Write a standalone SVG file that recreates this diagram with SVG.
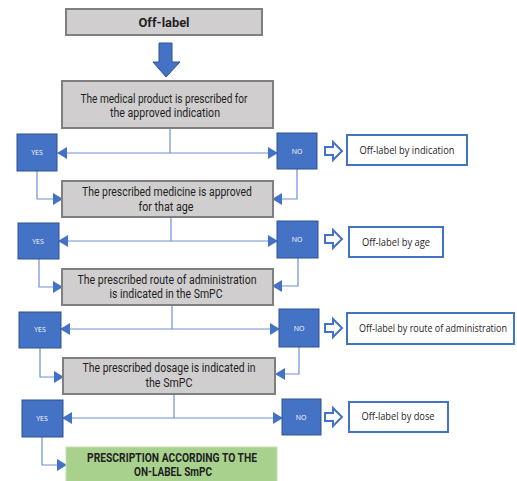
<svg xmlns="http://www.w3.org/2000/svg" width="517" height="481" viewBox="0 0 517 481">
<defs>
<marker id="ah" markerUnits="userSpaceOnUse" markerWidth="10" markerHeight="12" refX="9" refY="6" orient="auto-start-reverse">
<path d="M0,0 L10,6 L0,12 Z" fill="#4472C4"/>
</marker>
<style>
.gray{fill:#d0cece;stroke:#7f7f7f;stroke-width:2}
.blue{fill:#4472C4;stroke:#2F528F;stroke-width:1}
.out{fill:#fff;stroke:#4472C4;stroke-width:2}
.green{fill:#a9d18e;stroke:#c5e0b4;stroke-width:1}
.oarr{fill:#fff;stroke:#4472C4;stroke-width:2;stroke-linejoin:miter}
.con{fill:none;stroke:#6f8fd0;stroke-width:1.2}
.t{font-family:"Roboto","Liberation Sans",sans-serif;font-size:12.5px;fill:#1f1f1f;text-anchor:middle}
.b{font-weight:bold}
.yn{font-family:"Open Sans","Liberation Sans",sans-serif;font-size:7px;fill:#fff;text-anchor:middle}
.ol{font-family:"Open Sans","Liberation Sans",sans-serif;font-size:10px;fill:#262626;text-anchor:middle}
</style>
</defs>
<rect width="517" height="481" fill="#fff"/>

<g id="connectors">
<polygon points="159,43 172,43 172,62 180,62 166,77 153,62 159,62" fill="#4472C4" stroke="#2F528F" stroke-width="1"/>
<line class="con" x1="170" y1="128" x2="170" y2="153"/>
<line class="con" x1="58" y1="153" x2="277" y2="153" marker-start="url(#ah)" marker-end="url(#ah)"/>
<polyline class="con" points="37,171 37,199 62,199" marker-end="url(#ah)"/>
<polyline class="con" points="297,169 297,199 273,199" marker-end="url(#ah)"/>

<line class="con" x1="171" y1="217" x2="171" y2="241"/>
<line class="con" x1="59" y1="241" x2="277" y2="241" marker-start="url(#ah)" marker-end="url(#ah)"/>
<polyline class="con" points="39,259 39,287 62,287" marker-end="url(#ah)"/>
<polyline class="con" points="298,258 298,286 273,286" marker-end="url(#ah)"/>

<line class="con" x1="172" y1="305" x2="172" y2="329"/>
<line class="con" x1="61" y1="329" x2="279" y2="329" marker-start="url(#ah)" marker-end="url(#ah)"/>
<polyline class="con" points="40,348 40,377 63,377" marker-end="url(#ah)"/>
<polyline class="con" points="299,347 299,374 276,374" marker-end="url(#ah)"/>

<line class="con" x1="174" y1="394" x2="174" y2="418"/>
<line class="con" x1="63" y1="418" x2="282" y2="418" marker-start="url(#ah)" marker-end="url(#ah)"/>
<polyline class="con" points="42,437 42,465 66,465" marker-end="url(#ah)"/>

<polygon class="oarr" points="325,147 333,147 333,142 342,151 333,160 333,155 325,155"/>
<polygon class="oarr" points="325,235 333,235 333,230 342,239 333,248 333,243 325,243"/>
<polygon class="oarr" points="325,324 333,324 333,319 342,328 333,337 333,332 325,332"/>
<polygon class="oarr" points="325,413 333,413 333,408 342,417 333,426 333,421 325,421"/>
</g>

<g id="start">
<rect class="gray" x="66" y="9" width="196" height="26"/>
<text class="t b" x="164" y="27" font-size="13.5" textLength="51" lengthAdjust="spacingAndGlyphs">Off-label</text>
</g>

<g id="q1">
<rect class="gray" x="62" y="81" width="211" height="47"/>
<text class="t" x="164" y="103" textLength="167" lengthAdjust="spacingAndGlyphs">The medical product is prescribed for</text>
<text class="t" x="165" y="117" textLength="110" lengthAdjust="spacingAndGlyphs">the approved indication</text>
</g>
<g id="yes1"><rect class="blue" x="17" y="134" width="40" height="37"/><text class="yn" x="37" y="155">YES</text></g>
<g id="no1"><rect class="blue" x="277" y="133" width="40" height="36"/><text class="yn" x="297" y="154">NO</text></g>
<g id="res1"><rect class="out" x="347" y="135" width="120" height="30"/><text class="ol" x="407" y="154" textLength="95" lengthAdjust="spacingAndGlyphs">Off-label by indication</text></g>

<g id="q2">
<rect class="gray" x="62" y="181" width="211" height="36"/>
<text class="t" x="167" y="196" textLength="170" lengthAdjust="spacingAndGlyphs">The prescribed medicine is approved</text>
<text class="t" x="166" y="211" textLength="55" lengthAdjust="spacingAndGlyphs">for that age</text>
</g>
<g id="yes2"><rect class="blue" x="18" y="223" width="41" height="36"/><text class="yn" x="38" y="244">YES</text></g>
<g id="no2"><rect class="blue" x="277" y="221" width="41" height="37"/><text class="yn" x="297" y="242">NO</text></g>
<g id="res2"><rect class="out" x="349" y="227" width="94" height="30"/><text class="ol" x="396" y="246" textLength="68" lengthAdjust="spacingAndGlyphs">Off-label by age</text></g>

<g id="q3">
<rect class="gray" x="62" y="269" width="211" height="36"/>
<text class="t" x="167" y="284" textLength="179" lengthAdjust="spacingAndGlyphs">The prescribed route of administration</text>
<text class="t" x="166" y="298" textLength="113" lengthAdjust="spacingAndGlyphs">is indicated in the SmPC</text>
</g>
<g id="yes3"><rect class="blue" x="19" y="312" width="42" height="36"/><text class="yn" x="40" y="332">YES</text></g>
<g id="no3"><rect class="blue" x="279" y="309" width="40" height="38"/><text class="yn" x="299" y="331">NO</text></g>
<g id="res3"><rect class="out" x="347" y="313" width="167" height="31"/><text class="ol" transform="translate(433,332) scale(0.9,1)" x="0" y="0">Off-label by route of administration</text></g>

<g id="q4">
<rect class="gray" x="63" y="358" width="212" height="36"/>
<text class="t" x="169" y="372" textLength="173" lengthAdjust="spacingAndGlyphs">The prescribed dosage is indicated in</text>
<text class="t" x="169" y="387" textLength="47" lengthAdjust="spacingAndGlyphs">the SmPC</text>
</g>
<g id="yes4"><rect class="blue" x="22" y="400" width="41" height="37"/><text class="yn" x="42" y="421">YES</text></g>
<g id="no4"><rect class="blue" x="282" y="399" width="39" height="36"/><text class="yn" x="301" y="420">NO</text></g>
<g id="res4"><rect class="out" x="349" y="402" width="99" height="30"/><text class="ol" x="398" y="420" textLength="73" lengthAdjust="spacingAndGlyphs">Off-label by dose</text></g>

<g id="onlabel">
<rect class="green" x="66" y="447" width="211" height="38"/>
<text class="t b" x="172" y="462" textLength="170" lengthAdjust="spacingAndGlyphs">PRESCRIPTION ACCORDING TO THE</text>
<text class="t b" x="173" y="476" textLength="78" lengthAdjust="spacingAndGlyphs">ON-LABEL SmPC</text>
</g>
</svg>
